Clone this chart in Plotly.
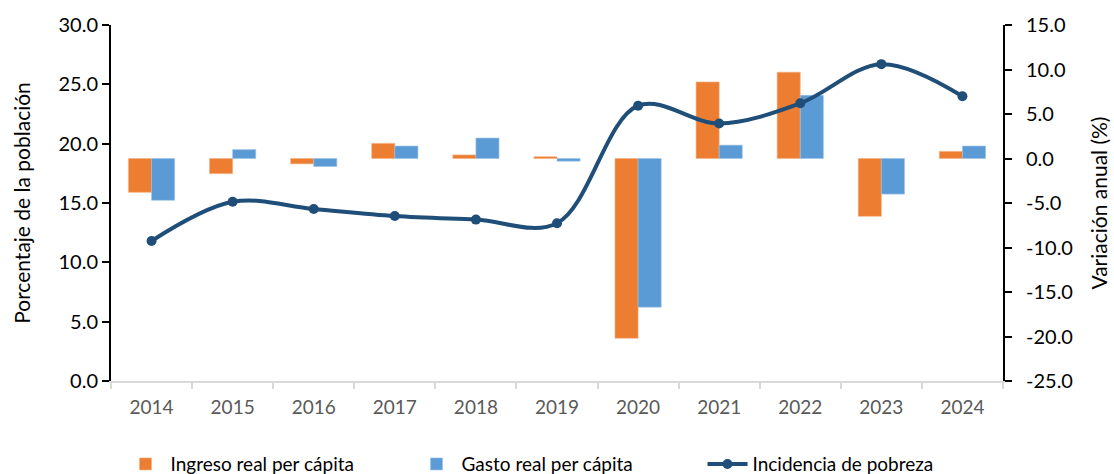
import plotly.graph_objects as go

years = ["2014", "2015", "2016", "2017", "2018", "2019", "2020", "2021", "2022", "2023", "2024"]
ingreso = [-3.8, -1.7, -0.6, 1.7, 0.4, 0.2, -20.2, 8.6, 9.7, -6.5, 0.8]
gasto = [-4.7, 1.0, -0.9, 1.4, 2.3, -0.3, -16.7, 1.5, 7.1, -4.0, 1.4]
pobreza = [11.8, 15.1, 14.5, 13.9, 13.6, 13.3, 23.2, 21.7, 23.4, 26.7, 24.0]

left_ticks = [0, 5, 10, 15, 20, 25, 30]
right_ticks = [-25, -20, -15, -10, -5, 0, 5, 10, 15]

FONT = "Lato, 'Open Sans', sans-serif"

fig = go.Figure()
fig.add_trace(go.Bar(
    x=years, y=ingreso, name="Ingreso real per cápita",
    marker=dict(color="#ED7D31", line=dict(color="#F4B183", width=0.6)),
    yaxis="y",
))
fig.add_trace(go.Bar(
    x=years, y=gasto, name="Gasto real per cápita",
    marker=dict(color="#5B9BD5", line=dict(color="#9DC3E6", width=0.6)),
    yaxis="y",
))
fig.add_trace(go.Scatter(
    x=years, y=pobreza, name="Incidencia de pobreza",
    mode="lines+markers",
    line=dict(color="#1F4E79", width=4, shape="spline", smoothing=1.0),
    marker=dict(color="#1F4E79", size=10),
    yaxis="y2",
))

fig.update_layout(
    width=1114, height=474,
    margin=dict(l=111, r=111, t=25, b=93, autoexpand=False),
    paper_bgcolor="white", plot_bgcolor="white",
    font=dict(family=FONT, size=20, color="#000000"),
    barmode="group", bargap=0.43, bargroupgap=0,
    showlegend=True,
    legend=dict(
        orientation="h", x=0.5, xanchor="center", y=-0.18, yanchor="top",
        font=dict(family=FONT, size=19, color="#000000"),
        entrywidth=236, entrywidthmode="pixels",
        traceorder="normal", itemwidth=40,
    ),
    xaxis=dict(
        type="category", tickson="boundaries", automargin=False,
        range=[-0.5, len(years) - 0.5],
        showline=True, linecolor="#D9D9D9", linewidth=1.5,
        ticks="outside", ticklen=6, tickcolor="#D9D9D9", tickwidth=1.5,
        ticklabelstandoff=8,
        tickfont=dict(family=FONT, size=19, color="#595959"),
        showgrid=False, zeroline=False,
    ),
    yaxis=dict(
        side="right", range=[-25, 15], tickvals=right_ticks, automargin=False,
        ticktext=[f"{v:.1f}" for v in right_ticks],
        showline=True, linecolor="#000000", linewidth=2,
        ticks="outside", ticklen=7, tickcolor="#000000", tickwidth=2,
        ticklabelstandoff=10,
        showgrid=False, zeroline=False,
        title=dict(text="Variación anual (%)", font=dict(family=FONT, size=21), standoff=20),
        tickfont=dict(family=FONT, size=20),
    ),
    yaxis2=dict(
        overlaying="y", side="left", range=[0, 30], tickvals=left_ticks, automargin=False,
        ticktext=[f"{v:.1f}" for v in left_ticks],
        showline=True, linecolor="#000000", linewidth=2,
        ticks="outside", ticklen=7, tickcolor="#000000", tickwidth=2,
        showgrid=False, zeroline=False,
        title=dict(text="Porcentaje de la población", font=dict(family=FONT, size=21), standoff=22),
        tickfont=dict(family=FONT, size=20),
    ),
)

fig.write_html(
    "out.html",
    config={"displayModeBar": False},
    post_script="document.body.style.margin='0';document.body.style.padding='0';",
)
